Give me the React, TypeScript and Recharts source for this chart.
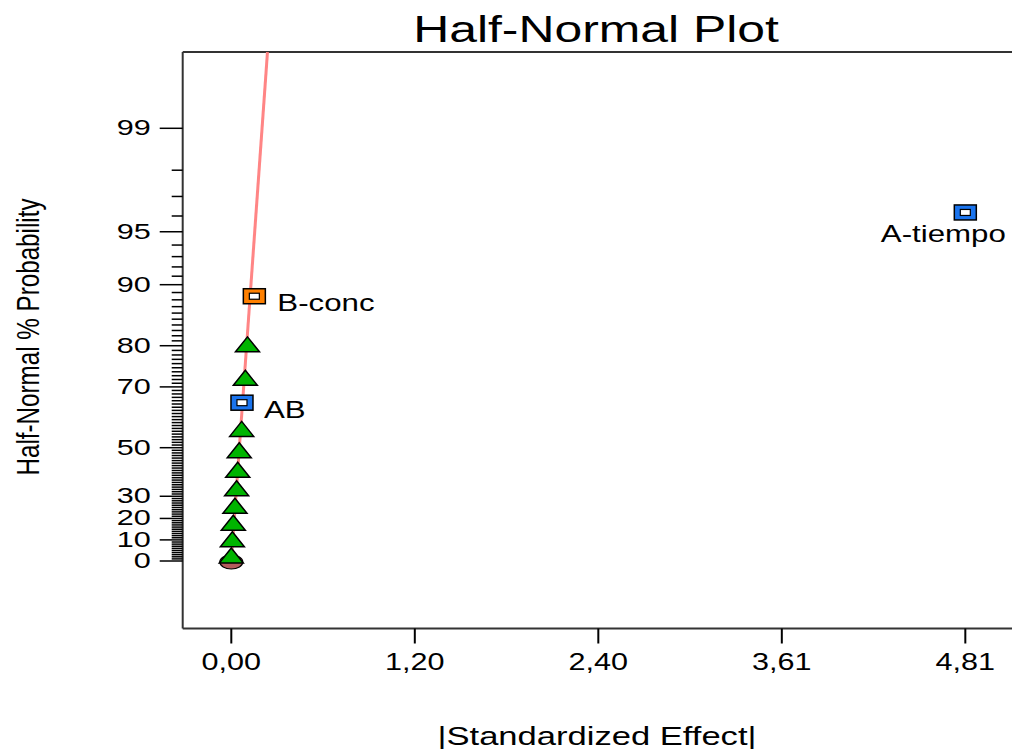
import React from "react";
import { ReferenceLine, Scatter, ScatterChart, XAxis, YAxis } from "recharts";

// named effects (squares)
const effectNames = ["A-tiempo", "B-conc", "AB"];
const effectValues = [4.81, 0.151, 0.07];
const effectPct = [96.2, 88.5, 65.4];
const effectSigns = ["-", "+", "-"];

// error estimates (triangles)
const errorValues = [0.0, 0.007, 0.013, 0.024, 0.035, 0.042, 0.052, 0.068, 0.092, 0.106];
const errorPct = [3.8, 11.5, 19.2, 26.9, 34.6, 42.3, 50.0, 57.7, 73.1, 80.8];

// point at the origin (circle under the lowest triangle)
const baseValues = [0];
const basePct = [0];

// reference line
const fitLineValues = [0, 0.237];
const fitLinePct = [0, 99.755];

const xTicks = [0, 1.2025, 2.405, 3.6075, 4.81];
const xTickLabels = ["0,00", "1,20", "2,40", "3,61", "4,81"];
const yMajorPct = [0, 10, 20, 30, 50, 70, 80, 90, 95, 99];
const yMinorPct = Array.from({ length: 100 }, (_, i) => i);

const FONT = '"Liberation Sans", Arial, sans-serif';
const SX = 1.33; // the picture is stretched sideways
const X_DOMAIN: [number, number] = [-0.3185, 5.129];
const Y_DOMAIN: [number, number] = [-0.4018, 3.03];

// inverse standard normal cdf (Acklam)
function probit(p: number): number {
  const a = [-39.69683028665376, 220.9460984245205, -275.9285104469687, 138.357751867269, -30.66479806614716, 2.506628277459239];
  const b = [-54.47609879822406, 161.5858368580409, -155.6989798598866, 66.80131188771972, -13.28068155288572];
  const c = [-0.007784894002430293, -0.3223964580411365, -2.400758277161838, -2.549671348464560, 4.374664141464968, 2.938163982698783];
  const d = [0.007784695709041462, 0.3224671290700398, 2.445134137142996, 3.754408661907416];
  const plow = 0.02425;
  if (p < plow) {
    const q = Math.sqrt(-2 * Math.log(p));
    return (((((c[0] * q + c[1]) * q + c[2]) * q + c[3]) * q + c[4]) * q + c[5]) / ((((d[0] * q + d[1]) * q + d[2]) * q + d[3]) * q + 1);
  }
  if (p <= 1 - plow) {
    const q = p - 0.5;
    const r = q * q;
    return ((((((a[0] * r + a[1]) * r + a[2]) * r + a[3]) * r + a[4]) * r + a[5]) * q) / (((((b[0] * r + b[1]) * r + b[2]) * r + b[3]) * r + b[4]) * r + 1);
  }
  const q = Math.sqrt(-2 * Math.log(1 - p));
  return -(((((c[0] * q + c[1]) * q + c[2]) * q + c[3]) * q + c[4]) * q + c[5]) / ((((d[0] * q + d[1]) * q + d[2]) * q + d[3]) * q + 1);
}
const halfNormal = (pct: number) => probit(0.5 + pct / 200);

const effectData = effectNames.map((name, i) => ({ name, sign: effectSigns[i], effect: effectValues[i], z: halfNormal(effectPct[i]) }));
const errorData = errorValues.map((v, i) => ({ effect: v, z: halfNormal(errorPct[i]) }));
const baseData = baseValues.map((v, i) => ({ effect: v, z: halfNormal(basePct[i]) }));
const fitLine = fitLineValues.map((v, i) => ({ effect: v, z: halfNormal(fitLinePct[i]) }));

const yTicks = yMinorPct.map(halfNormal);
const pctByZ = new Map(yMinorPct.map((p) => [halfNormal(p).toFixed(6), p]));

const labelPlacement: Record<string, { dx: number; dy: number; anchor: "start" | "middle" | "end" }> = {
  "A-tiempo": { dx: -22, dy: 29.5, anchor: "middle" },
  "B-conc": { dx: 23, dy: 14.5, anchor: "start" },
  AB: { dx: 22, dy: 15.5, anchor: "start" },
};

function StretchText({ x, y, size, anchor = "start", sx = SX, children }: any) {
  return (
    <text transform={`translate(${x},${y}) scale(${sx},1)`} x={0} y={0} textAnchor={anchor} fontFamily={FONT} fontSize={size} fill="#000">
      {children}
    </text>
  );
}

function ProbTick(props: any) {
  const { x, y, payload } = props;
  const pct = pctByZ.get(Number(payload.value).toFixed(6));
  const major = pct !== undefined && yMajorPct.includes(pct);
  return (
    <g>
      <line x1={x - (major ? 23 : 11)} x2={x} y1={y} y2={y} stroke="#000" strokeWidth={1.5} />
      {major && (
        <StretchText x={x - 32} y={y + 7} size={22} sx={1.39} anchor="end">
          {pct}
        </StretchText>
      )}
    </g>
  );
}

function EffectTick(props: any) {
  const { x, y, payload } = props;
  const i = xTicks.indexOf(payload.value);
  return (
    <StretchText x={x} y={y + 26.5} size={23} anchor="middle">
      {xTickLabels[i]}
    </StretchText>
  );
}

const NoShape = () => <g />;

function BaseShape(props: any) {
  const { cx, cy } = props;
  return <ellipse cx={cx} cy={cy + 1} rx={11.5} ry={7} fill="#b35c5c" stroke="#000" strokeWidth={1.2} />;
}

function TriangleShape(props: any) {
  const { cx, cy } = props;
  return <polygon points={`${cx - 12},${cy + 10} ${cx + 12},${cy + 10} ${cx},${cy - 5}`} fill="#00b400" stroke="#000" strokeWidth={1.5} />;
}

function SquareShape(props: any) {
  const { cx, cy, payload } = props;
  const fill = payload.sign === "+" ? "#ff8000" : "#1a74ee";
  const lp = labelPlacement[payload.name];
  return (
    <g>
      <rect x={cx - 11} y={cy - 7.5} width={22} height={15} fill={fill} stroke="#000" strokeWidth={1.5} />
      <rect x={cx - 5} y={cy - 3} width={10} height={6} fill="#fff" stroke="#000" strokeWidth={1.2} />
      <StretchText x={cx + lp.dx} y={cy + lp.dy} size={23.5} anchor={lp.anchor}>
        {payload.name}
      </StretchText>
    </g>
  );
}

export default function App() {
  return (
    <div style={{ position: "absolute", left: 0, top: 0, width: 1012, height: 749, overflow: "hidden", background: "#fff" }}>
      <ScatterChart width={1040} height={749} margin={{ top: 52, right: 26, bottom: 0, left: 0 }}>
        <XAxis
          type="number"
          dataKey="effect"
          domain={X_DOMAIN}
          allowDataOverflow
          ticks={xTicks}
          interval={0}
          height={120.5}
          tickSize={15}
          tickMargin={0}
          axisLine={{ stroke: "#333", strokeWidth: 2 }}
          tickLine={{ stroke: "#000", strokeWidth: 2 }}
          tick={<EffectTick />}
        />
        <YAxis
          type="number"
          dataKey="z"
          domain={Y_DOMAIN}
          allowDataOverflow
          ticks={yTicks}
          interval={0}
          width={182.7}
          tickSize={0}
          tickMargin={0}
          axisLine={{ stroke: "#333", strokeWidth: 2 }}
          tickLine={false}
          tick={<ProbTick />}
        />
        <ReferenceLine y={Y_DOMAIN[1]} stroke="#333" strokeWidth={2} />
        <Scatter data={fitLine} line={{ stroke: "#ff8585", strokeWidth: 3 }} shape={<NoShape />} isAnimationActive={false} />
        <Scatter data={baseData} shape={<BaseShape />} isAnimationActive={false} />
        <Scatter data={errorData} shape={<TriangleShape />} isAnimationActive={false} />
        <Scatter data={effectData} shape={<SquareShape />} isAnimationActive={false} />
      </ScatterChart>
      <svg width={1012} height={749} style={{ position: "absolute", left: 0, top: 0, pointerEvents: "none" }}>
        <StretchText x={596} y={42} size={37.5} anchor="middle">
          Half-Normal Plot
        </StretchText>
        <StretchText x={597} y={745} size={26} anchor="middle">
          |Standardized Effect|
        </StretchText>
        <text transform={`translate(39,337) scale(${SX},1) rotate(-90)`} x={0} y={0} textAnchor="middle" fontFamily={FONT} fontSize={24.2} fill="#000">
          Half-Normal % Probability
        </text>
      </svg>
    </div>
  );
}
